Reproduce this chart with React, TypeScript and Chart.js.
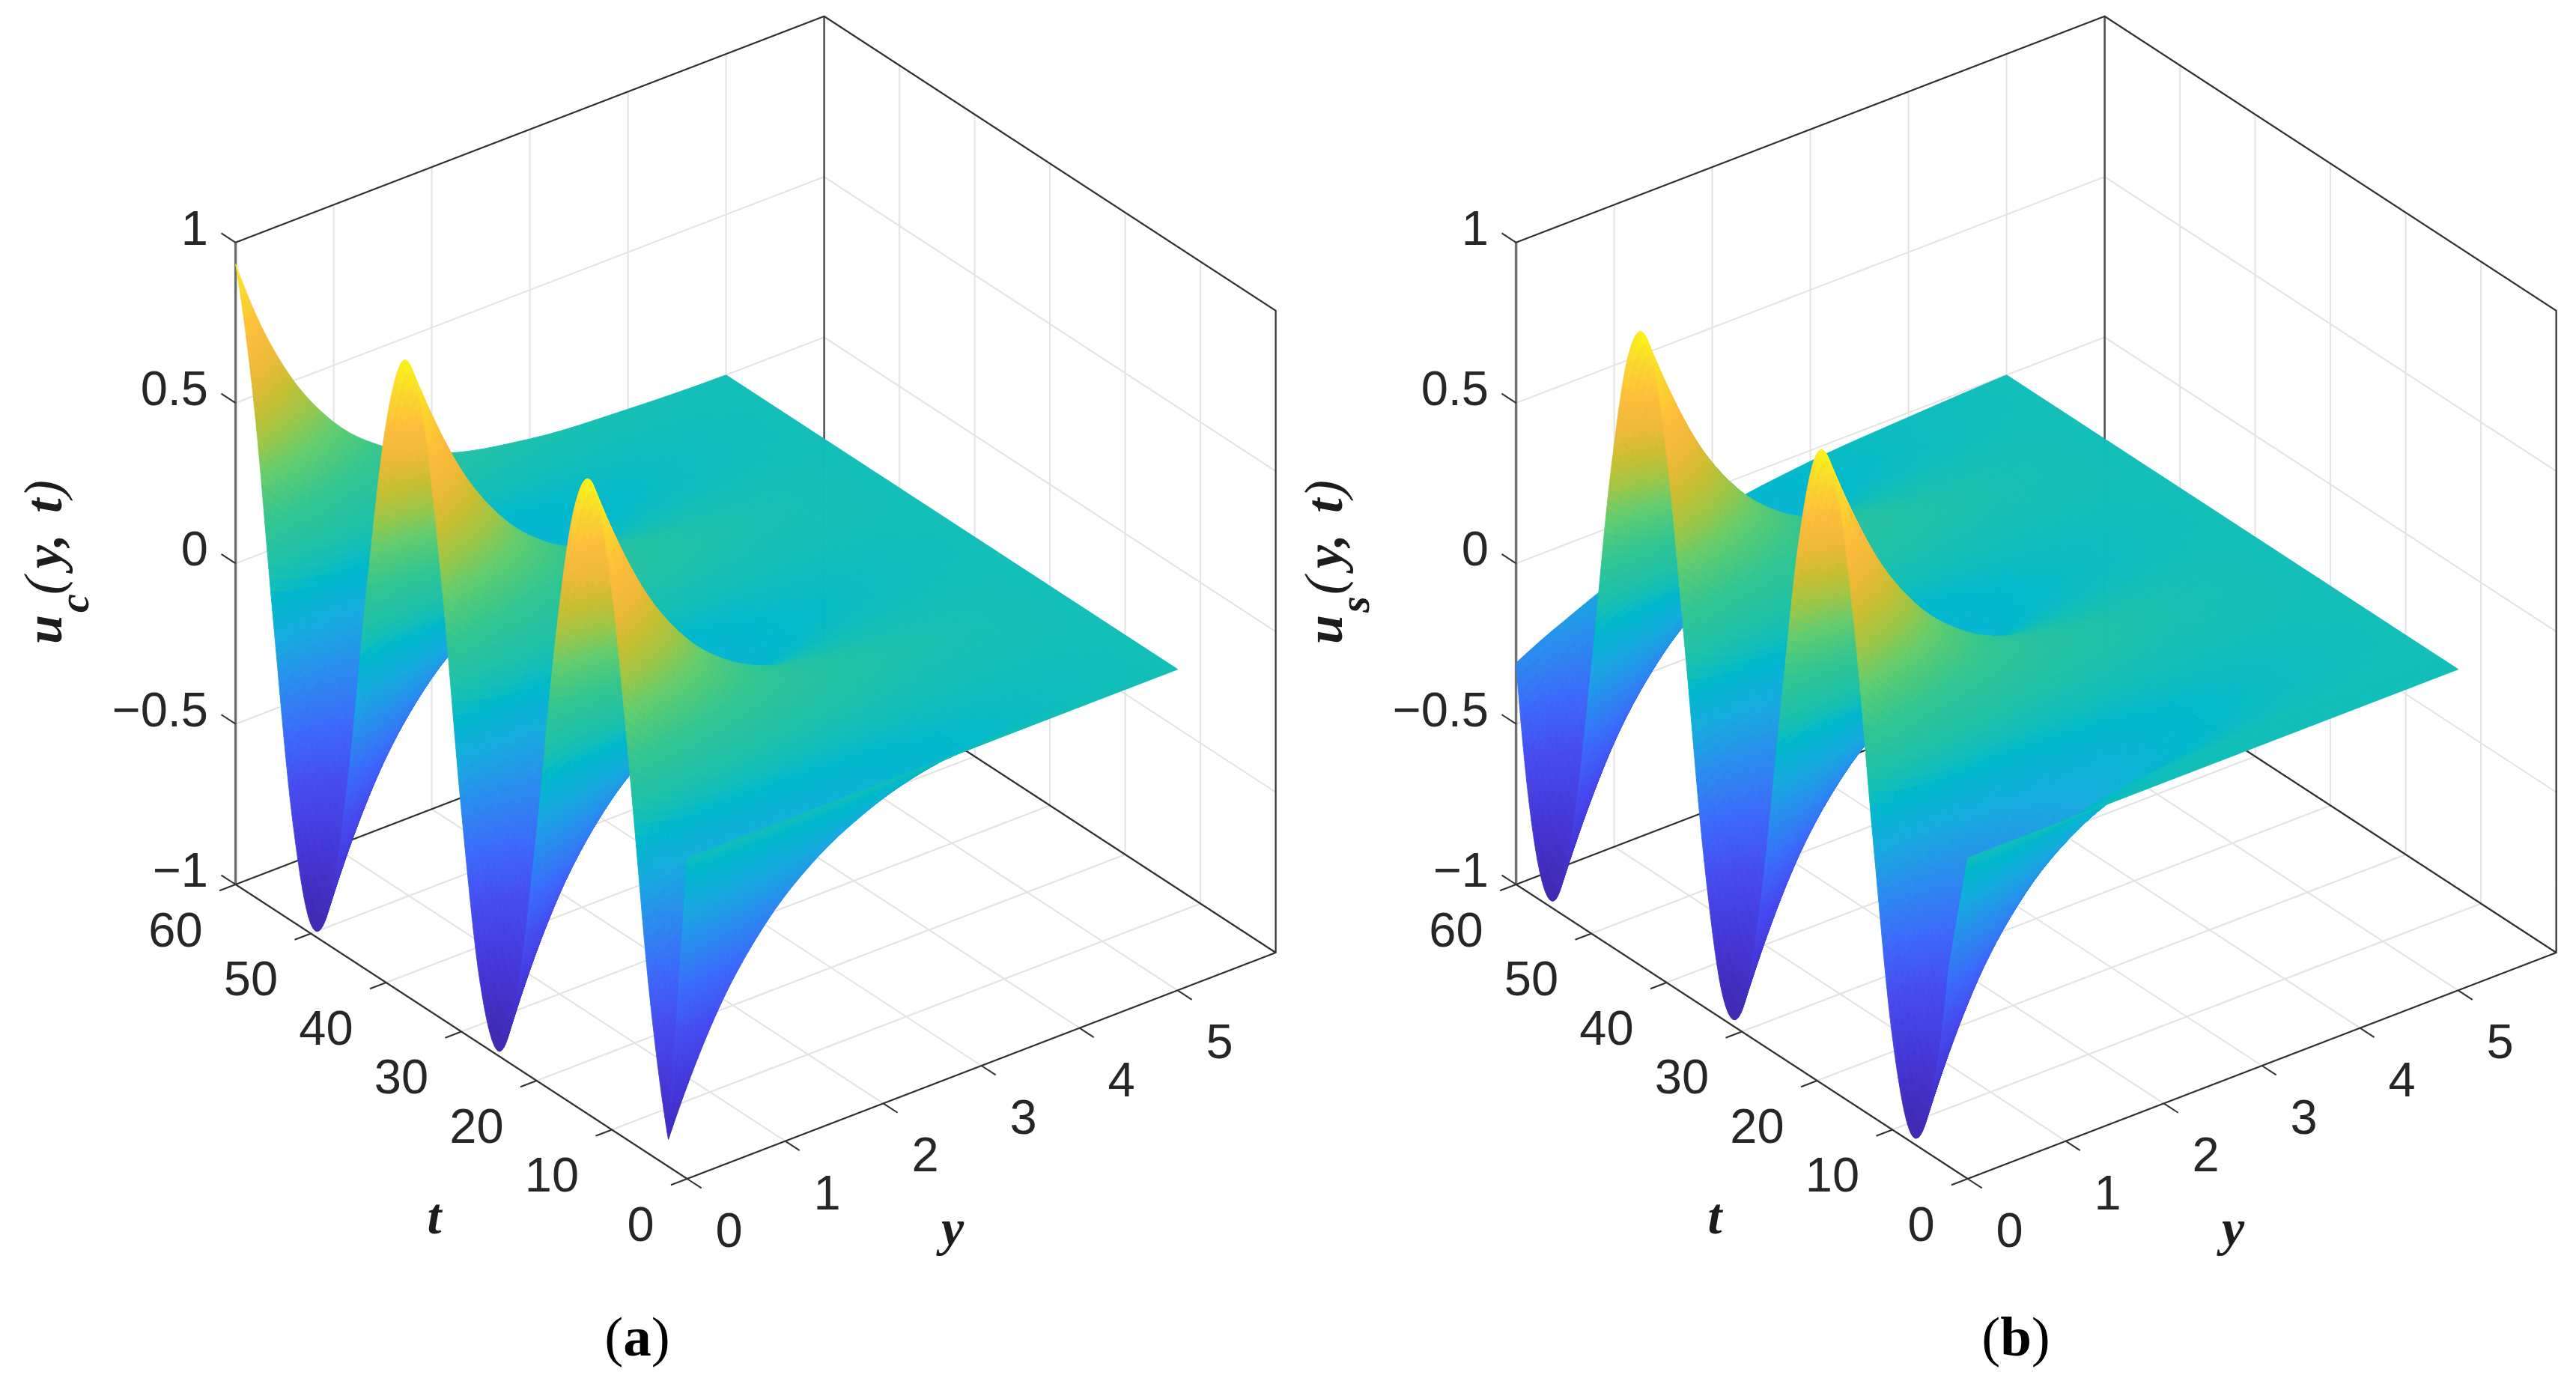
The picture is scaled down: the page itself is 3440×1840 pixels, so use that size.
import React, { useEffect, useRef } from "react";
import { Chart, registerables } from "chart.js";

Chart.register(...registerables);

// ---------- values ----------
const tKnots = [0, 2.5, 5, 7.5, 10, 12.5, 15, 17.5, 20, 22.5, 25, 27.5, 30, 32.5, 35, 37.5, 40, 42.5, 45, 47.5, 50, 52.5, 55, 57.5, 60];
const yKnots = [0, 0.25, 0.5, 1, 1.5, 2, 3, 4, 5];

const ucY0 = [0, -0.915, -0.5, 0.119, 0.68, 0.972, 0.86, 0.41, -0.226, -0.76, -0.985, -0.81, -0.309, 0.33, 0.82, 0.978, 0.74, 0.204, -0.43, -0.875, -0.97, -0.67, -0.097, 0.525, 0.933];
const ucY025 = [0, -0.73, -0.416, 0.068, 0.523, 0.766, 0.696, 0.343, -0.151, -0.583, -0.777, -0.654, -0.265, 0.233, 0.635, 0.779, 0.604, 0.184, -0.312, -0.68, -0.771, -0.548, -0.101, 0.387, 0.717];
const ucY05 = [0, -0.575, -0.341, 0.033, 0.393, 0.593, 0.551, 0.284, -0.098, -0.441, -0.604, -0.52, -0.225, 0.162, 0.483, 0.607, 0.483, 0.162, -0.225, -0.52, -0.603, -0.441, -0.098, 0.285, 0.551];
const ucY1 = [0, -0.356, -0.226, -0.004, 0.22, 0.354, 0.343, 0.193, -0.036, -0.25, -0.363, -0.327, -0.158, 0.075, 0.278, 0.367, 0.307, 0.121, -0.114, -0.302, -0.368, -0.283, -0.083, 0.151, 0.323];
const ucY15 = [0, -0.219, -0.148, -0.017, 0.121, 0.21, 0.213, 0.129, -0.007, -0.141, -0.217, -0.204, -0.109, 0.031, 0.159, 0.221, 0.194, 0.087, -0.055, -0.175, -0.223, -0.18, -0.064, 0.078, 0.189];
const ucY2 = [0, -0.134, -0.096, -0.019, 0.066, 0.124, 0.131, 0.085, 0.004, -0.078, -0.129, -0.127, -0.073, 0.01, 0.09, 0.132, 0.121, 0.061, -0.025, -0.1, -0.134, -0.114, -0.047, 0.039, 0.109];
const ucY3 = [0, -0.05, -0.04, -0.013, 0.018, 0.043, 0.05, 0.036, 0.008, -0.023, -0.045, -0.049, -0.032, -0.003, 0.028, 0.047, 0.047, 0.028, -0.003, -0.032, -0.049, -0.045, -0.023, 0.008, 0.036];
const ucY4 = [0, -0.018, -0.016, -0.007, 0.004, 0.014, 0.018, 0.015, 0.005, -0.006, -0.015, -0.018, -0.013, -0.003, 0.008, 0.016, 0.018, 0.012, 0.001, -0.01, -0.017, -0.017, -0.011, 0.001, 0.011];
const ucY5 = [0, 0, 0, 0, 0, 0, 0, 0, 0, 0, 0, 0, 0, 0, 0, 0, 0, 0, 0, 0, 0, 0, 0, 0, 0];

const usY0 = [0, -0.38, -0.85, -0.975, -0.71, -0.151, 0.478, 0.895, 0.955, 0.63, 0.043, -0.56, -0.935, -0.93, -0.545, 0.065, 0.645, 0.96, 0.885, 0.459, -0.173, -0.72, -0.975, -0.84, -0.31];
const usY025 = [0, -0.273, -0.659, -0.776, -0.577, -0.143, 0.35, 0.7, 0.764, 0.517, 0.059, -0.423, -0.733, -0.744, -0.451, 0.026, 0.492, 0.757, 0.714, 0.38, -0.11, -0.554, -0.772, -0.676, -0.27];
const usY05 = [0, -0.194, -0.503, -0.606, -0.463, -0.13, 0.255, 0.536, 0.599, 0.417, 0.066, -0.313, -0.564, -0.585, -0.367, 0, 0.368, 0.585, 0.564, 0.313, -0.066, -0.417, -0.599, -0.536, -0.235];
const usY1 = [0, -0.095, -0.291, -0.368, -0.295, -0.102, 0.133, 0.313, 0.366, 0.27, 0.063, -0.169, -0.332, -0.36, -0.241, -0.024, 0.203, 0.348, 0.35, 0.21, -0.016, -0.235, -0.359, -0.336, -0.17];
const usY15 = [0, -0.043, -0.167, -0.222, -0.187, -0.076, 0.067, 0.182, 0.223, 0.173, 0.053, -0.089, -0.195, -0.221, -0.157, -0.029, 0.111, 0.205, 0.216, 0.139, 0.005, -0.131, -0.214, -0.209, -0.119];
const usY2 = [0, -0.018, -0.095, -0.134, -0.118, -0.054, 0.032, 0.105, 0.135, 0.11, 0.04, -0.046, -0.113, -0.135, -0.101, -0.026, 0.059, 0.121, 0.133, 0.091, 0.012, -0.072, -0.126, -0.129, -0.079];
const usY3 = [0, 0, -0.03, -0.048, -0.046, -0.026, 0.005, 0.034, 0.049, 0.044, 0.021, -0.011, -0.038, -0.05, -0.041, -0.016, 0.016, 0.041, 0.05, 0.038, 0.011, -0.021, -0.044, -0.049, -0.034];
const usY4 = [0, 0.002, -0.009, -0.017, -0.018, -0.011, 0, 0.011, 0.017, 0.017, 0.01, -0.002, -0.012, -0.018, -0.016, -0.008, 0.003, 0.014, 0.018, 0.015, 0.006, -0.005, -0.015, -0.018, -0.014];
const usY5 = [0, 0, 0, 0, 0, 0, 0, 0, 0, 0, 0, 0, 0, 0, 0, 0, 0, 0, 0, 0, 0, 0, 0, 0, 0];

const ucRows = [ucY0, ucY025, ucY05, ucY1, ucY15, ucY2, ucY3, ucY4, ucY5];
const usRows = [usY0, usY025, usY05, usY1, usY15, usY2, usY3, usY4, usY5];

const zTicks = [-1, -0.5, 0, 0.5, 1];
const zTickLabels = ["\u22121", "\u22120.5", "0", "0.5", "1"];
const tTicks = [0, 10, 20, 30, 40, 50, 60];
const yTicks = [0, 1, 2, 3, 4, 5];
const yAxisMax = 6;
const tAxisMax = 60;

// colour ramp as seen on the surface: [u, r, g, b]
const colourStops = [
  [-1, 62, 38, 168], [-0.8, 68, 52, 210], [-0.6, 70, 75, 240], [-0.45, 60, 105, 250],
  [-0.32, 45, 135, 240], [-0.16, 22, 172, 222], [-0.05, 0, 184, 204], [0, 18, 190, 184],
  [0.05, 30, 193, 170], [0.18, 50, 197, 145], [0.32, 100, 205, 110], [0.42, 160, 198, 70],
  [0.51, 200, 190, 50], [0.6, 235, 186, 55], [0.715, 253, 188, 60], [0.85, 252, 215, 45], [1, 249, 250, 20],
];

// ---------- view ----------
const view = { ox: 917.6, oy: 1574, ty: [-10.05, -6.55], yy: [131, -50.33], zy: 428.6 };
const W_A = 1710, W_B = 1730, H = 1840;

const px = (y: number, t: number) => view.ox + view.yy[0] * y + view.ty[0] * t;
const py = (y: number, t: number, u: number) => view.oy + view.yy[1] * y + view.ty[1] * t - view.zy * (u + 1);
const pt = (y: number, t: number, u: number) => ({ x: px(y, t), y: py(y, t, u) });
const GAP = { x: null as any, y: null as any };

function colourOf(u: number) {
  let i = 0;
  while (i < colourStops.length - 2 && u > colourStops[i + 1][0]) i++;
  const a = colourStops[i], b = colourStops[i + 1];
  const f = Math.max(0, Math.min(1, (u - a[0]) / (b[0] - a[0])));
  const c = (k: number) => Math.round(a[k] + (b[k] - a[k]) * f);
  return `rgb(${c(1)},${c(2)},${c(3)})`;
}

// smooth curve through knots (the same role as a line's tension)
function smooth(xs: number[], vs: number[], x: number, first = 0) {
  let i = first;
  while (i < xs.length - 2 && x > xs[i + 1]) i++;
  const h = (k: number) => xs[k + 1] - xs[k];
  const d = (k: number) => (vs[k + 1] - vs[k]) / h(k);
  const tan = (k: number): number => {
    if (k <= first) {
      const s = (h(first) * 2 + h(first + 1)) * d(first) - h(first) * d(first + 1);
      return s / (h(first) + h(first + 1));
    }
    if (k >= xs.length - 1) {
      const n = xs.length - 2;
      return ((h(n) * 2 + h(n - 1)) * d(n) - h(n) * d(n - 1)) / (h(n) + h(n - 1));
    }
    return (h(k) * d(k - 1) + h(k - 1) * d(k)) / (h(k) + h(k - 1));
  };
  const s = (x - xs[i]) / h(i);
  const s2 = s * s, s3 = s2 * s;
  return (2 * s3 - 3 * s2 + 1) * vs[i] + (s3 - 2 * s2 + s) * h(i) * tan(i) + (-2 * s3 + 3 * s2) * vs[i + 1] + (s3 - s2) * h(i) * tan(i + 1);
}

function surfaceDatasets(rows: number[][]) {
  return rows.map((vals, r) => ({
    label: `y=${yKnots[r]}`,
    surfaceRow: r,
    data: tKnots.map((t, i) => ({ ...pt(yKnots[r], t, vals[i]), t, u: vals[i] })),
    showLine: false,
    pointRadius: 0,
  }));
}

function lineSet(label: string, color: string, width: number, data: any[]) {
  return { label, data, showLine: true, borderColor: color, borderWidth: width, pointRadius: 0, spanGaps: false, tension: 0, borderCapStyle: "butt" };
}

function frameDatasets() {
  const top = 1, bot = -1, Y = yAxisMax, T = tAxisMax;
  const grid: any[] = [];
  for (const z of zTicks.slice(1, -1)) {
    grid.push(pt(0, T, z), pt(Y, T, z), pt(Y, 0, z), GAP);
  }
  for (const y of yTicks.slice(1)) {
    grid.push(pt(y, 0, bot), pt(y, T, bot), pt(y, T, top), GAP);
  }
  for (const t of tTicks.slice(1, -1)) {
    grid.push(pt(0, t, bot), pt(Y, t, bot), pt(Y, t, top), GAP);
  }
  const dark = [
    pt(0, T, top), pt(Y, T, top), pt(Y, 0, top), pt(Y, 0, bot), pt(0, 0, bot), pt(0, T, bot), pt(Y, T, bot), pt(Y, 0, bot), GAP,
  ];
  const ticks: any[] = [];
  for (const z of zTicks) ticks.push(pt(0, T, z), pt(0, T + 1.9, z), GAP);
  for (const t of tTicks) ticks.push(pt(0, t, bot), pt(-0.165, t, bot), GAP);
  for (const y of yTicks) ticks.push(pt(y, 0, bot), pt(y, -1.9, bot), GAP);
  return [
    lineSet("ticks", "#303030", 2, ticks),
    lineSet("box", "#303030", 2.2, dark),
    lineSet("left edge", "#6e6e6e", 3.4, [pt(0, T, bot), pt(0, T, top)]),
    lineSet("back edge", "#555555", 2.6, [pt(Y, T, bot), pt(Y, T, top)]),
    lineSet("grid", "#e3e3e3", 2, grid),
  ];
}

const surfacePlugin = {
  id: "surface",
  afterDatasetsDraw(chart: any) {
    const ctx = chart.ctx;
    const sx = chart.scales.x, sy = chart.scales.y;
    const rowSets = chart.data.datasets.filter((d: any) => d.surfaceRow !== undefined);
    const rowVals = rowSets.map((d: any) => d.data.map((p: any) => p.u));

    const fineT: number[] = [];
    for (let i = 0; i < tKnots.length - 1; i++) {
      const n = i === 0 ? 32 : 16;
      for (let k = 0; k < n; k++) fineT.push(tKnots[i] + ((tKnots[i + 1] - tKnots[i]) * k) / n);
    }
    fineT.push(tKnots[tKnots.length - 1]);
    const ySub = [5, 5, 8, 6, 6, 8, 6, 4];
    const fineY: number[] = [];
    for (let i = 0; i < yKnots.length - 1; i++) {
      for (let k = 0; k < ySub[i]; k++) fineY.push(yKnots[i] + ((yKnots[i + 1] - yKnots[i]) * k) / ySub[i]);
    }
    fineY.push(yKnots[yKnots.length - 1]);

    const grid = fineT.map((t) => {
      const col = rowVals.map((vals: number[]) =>
        t <= tKnots[1] ? (vals[1] * t) / tKnots[1] : smooth(tKnots, vals, t, 1)
      );
      return fineY.map((y) => smooth(yKnots, col, y));
    });
    const X = (y: number, t: number) => sx.getPixelForValue(px(y, t));
    const Y = (y: number, t: number, u: number) => sy.getPixelForValue(py(y, t, u));

    ctx.save();
    ctx.lineWidth = 0.9;
    ctx.lineJoin = "round";
    for (let i = fineT.length - 2; i >= 0; i--) {
      for (let j = fineY.length - 2; j >= 0; j--) {
        const t0 = fineT[i], t1 = fineT[i + 1], y0 = fineY[j], y1 = fineY[j + 1];
        const a = grid[i][j], b = grid[i + 1][j], c = grid[i + 1][j + 1], d = grid[i][j + 1];
        const col = colourOf((a + b + c + d) / 4);
        ctx.fillStyle = col;
        ctx.strokeStyle = col;
        ctx.beginPath();
        ctx.moveTo(X(y0, t0), Y(y0, t0, a));
        ctx.lineTo(X(y0, t1), Y(y0, t1, b));
        ctx.lineTo(X(y1, t1), Y(y1, t1, c));
        ctx.lineTo(X(y1, t0), Y(y1, t0, d));
        ctx.closePath();
        ctx.fill();
        ctx.stroke();
      }
    }
    ctx.restore();
  },
};

function textPlugin(sub: string, letter: string) {
  return {
    id: "texts",
    afterDraw(chart: any) {
      const ctx = chart.ctx;
      const sx = chart.scales.x, sy = chart.scales.y;
      const sans = '"Liberation Sans", Arial, sans-serif';
      const serif = '"Liberation Serif", "Times New Roman", serif';
      ctx.save();
      ctx.fillStyle = "#262626";
      ctx.font = `65px ${sans}`;
      ctx.textBaseline = "middle";
      ctx.textAlign = "right";
      zTicks.forEach((z, i) => {
        ctx.fillText(zTickLabels[i], sx.getPixelForValue(278), sy.getPixelForValue(py(0, tAxisMax, z) - 15));
      });
      tTicks.forEach((t) => {
        ctx.fillText(String(t), sx.getPixelForValue(px(0, t) - 44), sy.getPixelForValue(py(0, t, -1) + 65));
      });
      ctx.textAlign = "center";
      yTicks.forEach((y) => {
        ctx.fillText(String(y), sx.getPixelForValue(px(y, 0) + 56), sy.getPixelForValue(py(y, 0, -1) + 73));
      });

      ctx.fillStyle = "#1c1c1c";
      ctx.textBaseline = "alphabetic";
      ctx.font = `italic bold 68px ${serif}`;
      ctx.fillText("t", 580, 1647);
      ctx.fillText("y", 1272, 1663);

      // rotated z title
      ctx.save();
      ctx.translate(82, 860);
      ctx.rotate(-Math.PI / 2);
      ctx.textAlign = "left";
      ctx.font = `italic bold 70px ${serif}`;
      ctx.fillText("u", 0, 0);
      ctx.font = `italic bold 56px ${serif}`;
      ctx.fillText(sub, 42, 36);
      ctx.font = `italic 72px ${serif}`;
      ctx.fillText("(", 66, 0);
      ctx.font = `italic bold 70px ${serif}`;
      ctx.fillText("y,", 101, 0);
      ctx.fillText("t", 175, 0);
      ctx.font = `italic 72px ${serif}`;
      ctx.fillText(")", 195, 0);
      ctx.restore();

      // panel letter
      ctx.fillStyle = "#000000";
      const cx = letter === "a" ? 851 : 982;
      ctx.textAlign = "left";
      const parts: [string, string][] = [["(", `75px ${serif}`], [letter, `bold 75px ${serif}`], [")", `75px ${serif}`]];
      let total = 0;
      parts.forEach(([s, f]) => { ctx.font = f; total += ctx.measureText(s).width; });
      let x = cx - total / 2;
      parts.forEach(([s, f]) => { ctx.font = f; ctx.fillText(s, x, 1810); x += ctx.measureText(s).width; });
      ctx.restore();
    },
  };
}

function makeChart(canvas: HTMLCanvasElement, width: number, rows: number[][], sub: string, letter: string) {
  return new Chart(canvas, {
    type: "scatter",
    data: { datasets: [...frameDatasets(), ...surfaceDatasets(rows)] as any },
    options: {
      responsive: false,
      animation: false,
      events: [],
      layout: { padding: 0 },
      plugins: { legend: { display: false }, tooltip: { enabled: false }, title: { display: false } },
      scales: {
        x: { type: "linear", min: 0, max: width, display: false },
        y: { type: "linear", min: 0, max: H, reverse: true, display: false },
      },
    } as any,
    plugins: [surfacePlugin, textPlugin(sub, letter)] as any,
  });
}

export default function App() {
  const a = useRef<HTMLCanvasElement>(null);
  const b = useRef<HTMLCanvasElement>(null);
  useEffect(() => {
    const ca = makeChart(a.current!, W_A, ucRows, "c", "a");
    const cb = makeChart(b.current!, W_B, usRows, "s", "b");
    return () => {
      ca.destroy();
      cb.destroy();
    };
  }, []);
  return (
    <div style={{ position: "absolute", left: 0, top: 0, width: 3440, height: H, background: "#fff", overflow: "hidden" }}>
      <canvas ref={a} width={W_A} height={H} style={{ position: "absolute", left: 0, top: 0, width: W_A, height: H }} />
      <canvas ref={b} width={W_B} height={H} style={{ position: "absolute", left: 1710, top: 0, width: W_B, height: H }} />
    </div>
  );
}
